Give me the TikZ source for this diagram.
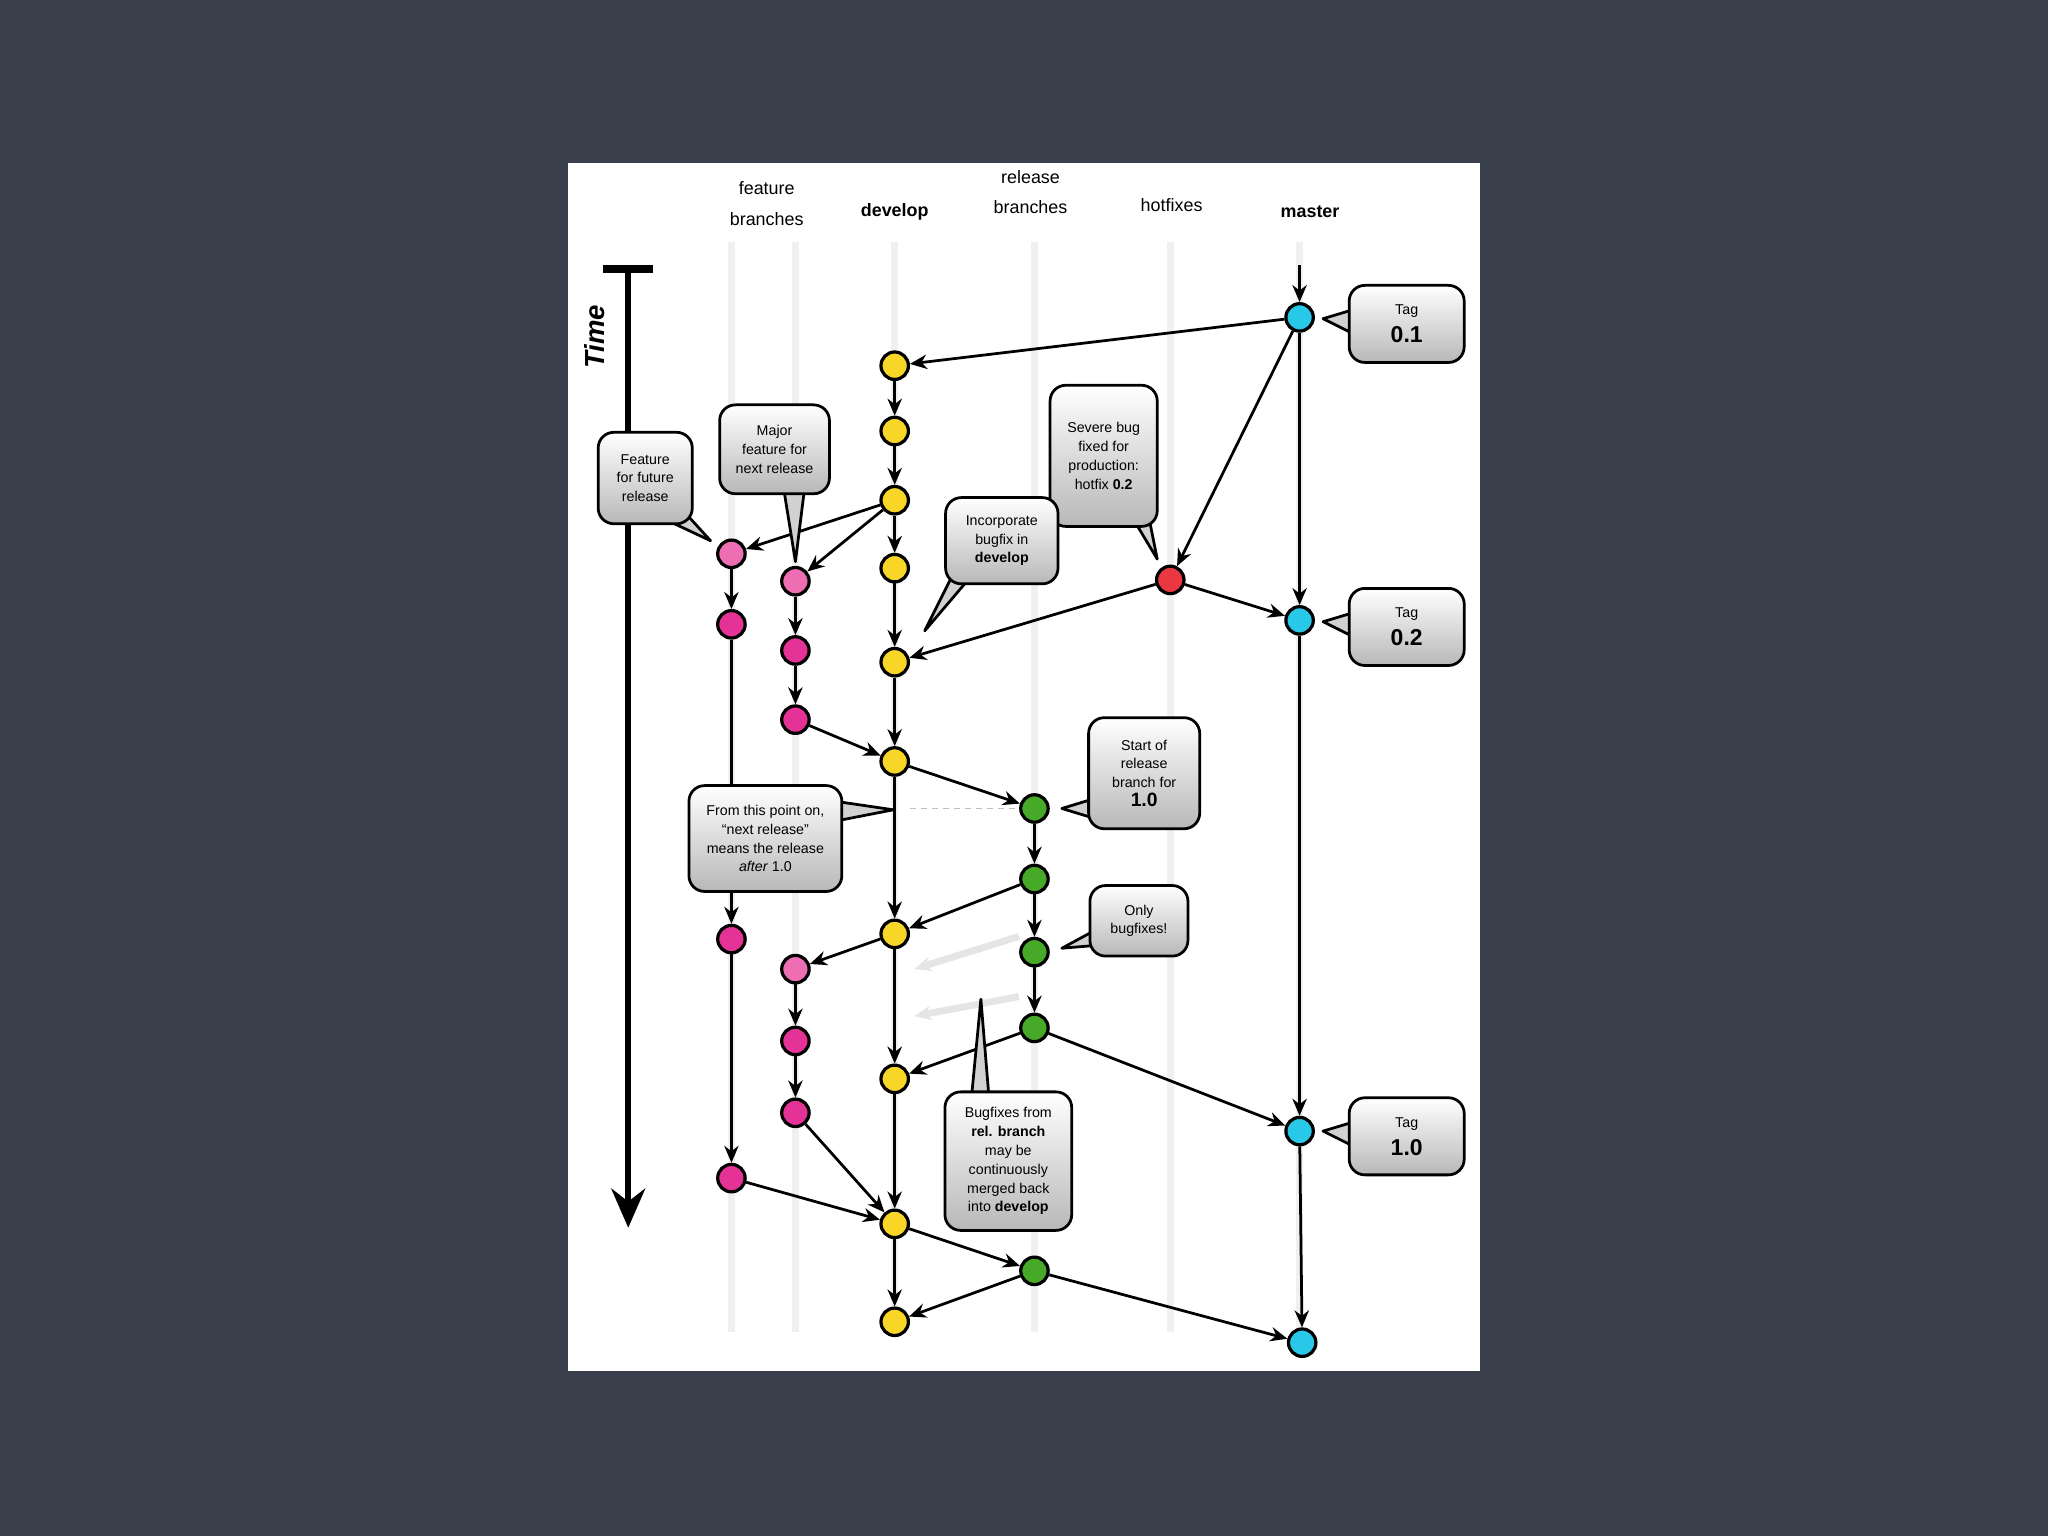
\documentclass[tikz,border=0pt]{standalone}
\usepackage{fontspec}
\setmainfont{Liberation Sans}
\usetikzlibrary{arrows.meta,shadings}
\definecolor{bg}{RGB}{58,63,76}
\definecolor{cyel}{RGB}{247,214,40}
\definecolor{cpink}{RGB}{238,110,180}
\definecolor{cmag}{RGB}{228,50,150}
\definecolor{cgreen}{RGB}{70,170,40}
\definecolor{ccyan}{RGB}{40,200,232}
\definecolor{cred}{RGB}{235,55,65}
\tikzset{
 commitdot/.style={circle,draw=black,line width=0.7pt,minimum size=0.21cm,inner sep=0pt},
 yel/.style={commitdot,fill=cyel}, pnk/.style={commitdot,fill=cpink}, mag/.style={commitdot,fill=cmag},
 grn/.style={commitdot,fill=cgreen}, cyn/.style={commitdot,fill=ccyan}, rd/.style={commitdot,fill=cred},
 ar/.style={-{Stealth[length=1.3mm,width=1.1mm]},line width=0.6pt},
 lane/.style={line width=1.6pt,color=black!6},
 cbox/.style={draw=black,line width=0.6pt,rounded corners=1.2mm,top color=white,bottom color=black!28,align=center,inner sep=0pt,font=\fontsize{3.1}{4.1}\selectfont},
 ptr/.style={draw=black,line width=0.6pt,fill=black!18,line join=round},
 hdr/.style={align=center,font=\fontsize{3.9}{5.6}\selectfont}
}
\begin{document}
\begin{tikzpicture}[x=0.01cm,y=-0.01cm]
\fill[bg] (0,0) rectangle (1568,1176);
\useasboundingbox (0,0) rectangle (1568,1176);
\fill[white] (435,125) rectangle (1133,1050);
% lanes
\foreach \x in {560,609,685,792,896,995} \draw[lane] (\x,185) -- (\x,1020);
% headers
\node[hdr] (h1) at (587,156) {feature\\[1pt]branches};
\node[hdr] (h2) at (685,162) {\bfseries develop};
\node[hdr] (h3) at (789,147) {release\\[1pt]branches};
\node[hdr] (h4) at (897,157) {hotfixes};
\node[hdr] (h5) at (1003,162) {\bfseries master};
% time
\coordinate (t0) at (481,206); \coordinate (t1) at (481,940);
\draw[line width=1.2pt,-{Stealth[length=3mm,width=2.6mm,inset=1mm]}] (t0) -- (t1);
\draw[line width=1.8pt] (462,206) -- (500,206);
\node[rotate=90,font=\fontsize{6}{7}\selectfont\bfseries\itshape] (tl) at (455,258) {Time};
% commits
\node[yel] (d1) at (685,280) {}; \node[yel] (d2) at (685,330) {};
\node[yel] (d3) at (685,383) {}; \node[yel] (d4) at (685,435) {};
\node[yel] (d5) at (685,507) {}; \node[yel] (d6) at (685,583) {};
\node[yel] (d7) at (685,715) {}; \node[yel] (d8) at (685,826) {};
\node[yel] (d9) at (685,937) {}; \node[yel] (d10) at (685,1012) {};
\node[pnk] (f1) at (560,424) {}; \node[mag] (f2) at (560,478) {};
\node[mag] (f3) at (560,719) {}; \node[mag] (f4) at (560,902) {};
\node[pnk] (g1) at (609,445) {}; \node[mag] (g2) at (609,498) {};
\node[mag] (g3) at (609,551) {}; \node[pnk] (g4) at (609,742) {};
\node[mag] (g5) at (609,797) {}; \node[mag] (g6) at (609,852) {};
\node[grn] (r1) at (792,619) {}; \node[grn] (r2) at (792,673) {};
\node[grn] (r3) at (792,729) {}; \node[grn] (r4) at (792,787) {};
\node[grn] (r5) at (792,973) {};
\node[rd] (hf) at (896,444) {};
\node[cyn] (m1) at (995,243) {}; \node[cyn] (m2) at (995,475) {};
\node[cyn] (m3) at (995,866) {}; \node[cyn] (m4) at (997,1028) {};
\coordinate (mtop) at (995,203);
% edges
\draw[ar] (mtop) -- (m1);
\foreach \a/\b in {m1/m2,m2/m3,m3/m4,m1/d1,m1/hf,hf/m2,hf/d5,
 d1/d2,d2/d3,d3/d4,d4/d5,d5/d6,d6/d7,d7/d8,d8/d9,d9/d10,
 d3/f1,d3/g1,f1/f2,f2/f3,f3/f4,f4/d9,g1/g2,g2/g3,g3/d6,
 d6/r1,r1/r2,r2/r3,r3/r4,r2/d7,r4/d8,r4/m3,d7/g4,g4/g5,g5/g6,g6/d9,
 d9/r5,r5/d10,r5/m4}
 \draw[ar] (\a) -- (\b);
\draw[dash pattern=on 1.2pt off 1.2pt,black!25,line width=0.4pt] (d6.east |- r1) -- (r1.west);
\coordinate (fa1) at (780,717); \coordinate (fb1) at (700,742);
\coordinate (fa2) at (780,763); \coordinate (fb2) at (700,778);
\draw[ar,black!10,line width=1.5pt] (fa1) -- (fb1);
\draw[ar,black!10,line width=1.5pt] (fa2) -- (fb2);
% callouts
\filldraw[ptr] (1033,238) -- (1013,244) -- (1033,254);
\node[cbox,minimum width=0.88cm,minimum height=0.59cm] (c1) at (1077,248) {Tag\\[1pt]{\fontsize{5}{6}\selectfont\bfseries 0.1}};
\filldraw[ptr] (1033,470) -- (1013,476) -- (1033,486);
\node[cbox,minimum width=0.88cm,minimum height=0.59cm] (c2) at (1077,480) {Tag\\[1pt]{\fontsize{5}{6}\selectfont\bfseries 0.2}};
\filldraw[ptr] (1033,860) -- (1013,866) -- (1033,876);
\node[cbox,minimum width=0.88cm,minimum height=0.59cm] (c3) at (1077,870) {Tag\\[1pt]{\fontsize{5}{6}\selectfont\bfseries 1.0}};
\filldraw[ptr] (510,398) -- (544,414) -- (524,392);
\node[cbox,minimum width=0.72cm,minimum height=0.70cm] (c4) at (494,366) {Feature\\for future\\release};
\filldraw[ptr] (600,374) -- (609,430) -- (616,374);
\node[cbox,minimum width=0.84cm,minimum height=0.68cm] (c5) at (593,344) {Major\\feature for\\next release};
\filldraw[ptr] (868,398) -- (886,428) -- (880,398);
\node[cbox,minimum width=0.82cm,minimum height=1.08cm] (c6) at (845,349) {Severe bug\\fixed for\\production:\\hotfix \textbf{0.2}};
\filldraw[ptr] (728,443) -- (708,483) -- (742,443);
\node[cbox,minimum width=0.86cm,minimum height=0.66cm] (c7) at (767,414) {Incorporate\\bugfix in\\\textbf{develop}};
\filldraw[ptr] (836,612) -- (813,619) -- (836,626);
\node[cbox,minimum width=0.85cm,minimum height=0.85cm] (c8) at (876,592) {Start of\\release\\branch for\\{\fontsize{4.2}{5}\selectfont\bfseries 1.0}};
\filldraw[ptr] (643,614) -- (684,620) -- (643,628);
\node[cbox,minimum width=1.17cm,minimum height=0.81cm] (c9) at (586,642) {From this point on,\\“next release”\\means the release\\\textit{after} 1.0};
\filldraw[ptr] (837,713) -- (813,726) -- (837,724);
\node[cbox,minimum width=0.75cm,minimum height=0.54cm] (c10) at (872,705) {Only\\bugfixes!};
\filldraw[ptr] (744,838) -- (751,765) -- (757,838);
\node[cbox,minimum width=0.97cm,minimum height=1.06cm] (c11) at (772,889) {Bugfixes from\\\textbf{rel. branch}\\may be\\continuously\\merged back\\into \textbf{develop}};
\end{tikzpicture}
\end{document}
